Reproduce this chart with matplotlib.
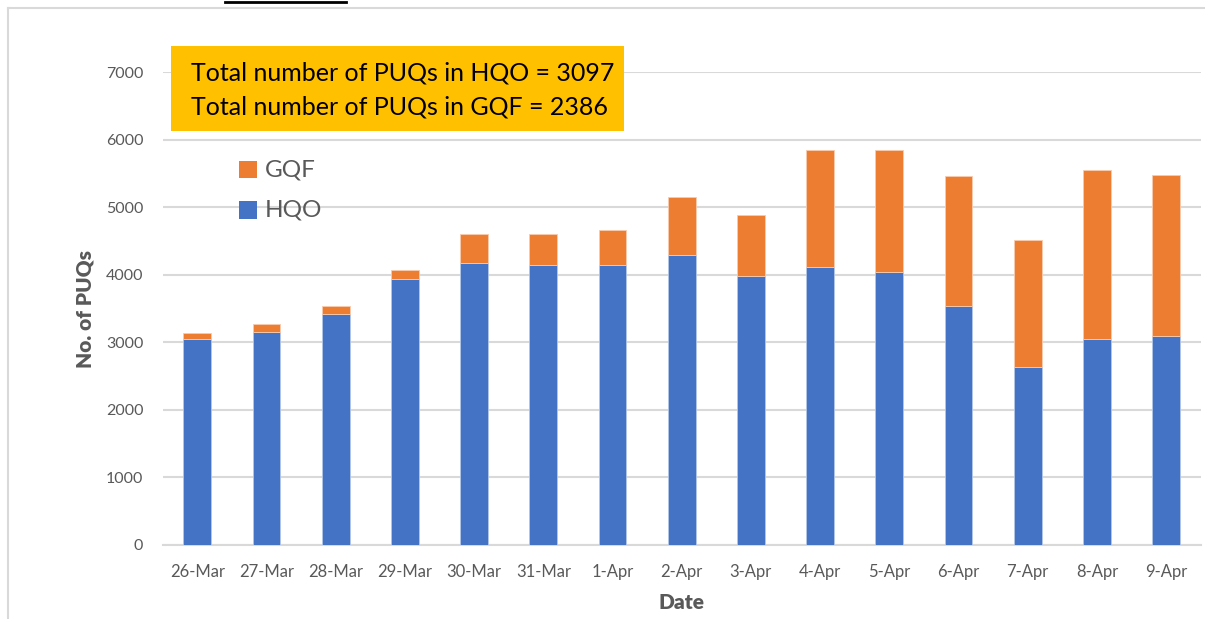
import matplotlib
matplotlib.use("Agg")
import matplotlib.pyplot as plt
from matplotlib.lines import Line2D
from matplotlib.patches import Rectangle

dates = ["26-Mar", "27-Mar", "28-Mar", "29-Mar", "30-Mar", "31-Mar", "1-Apr", "2-Apr",
         "3-Apr", "4-Apr", "5-Apr", "6-Apr", "7-Apr", "8-Apr", "9-Apr"]
hqo = [3044, 3147, 3426, 3937, 4178, 4143, 4143, 4288, 3985, 4119, 4040, 3543, 2634, 3044, 3097]
gqf = [99, 123, 114, 132, 429, 454, 513, 869, 905, 1722, 1801, 1917, 1876, 2502, 2386]
yticks = [0, 1000, 2000, 3000, 4000, 5000, 6000, 7000]
box_lines = ["Total number of PUQs in HQO = 3097", "Total number of PUQs in GQF = 2386"]

BLUE = "#4472C4"
ORANGE = "#ED7D31"
GREY_TXT = "#595959"
GRID = "#D9D9D9"
FONT = "Lato"

W, H = 1205, 619
fig = plt.figure(figsize=(W / 100, H / 100), dpi=100)
ax = fig.add_axes([162.7 / W, 1 - 545 / H, (1200.7 - 162.7) / W, (545 - 72) / H])

x = list(range(len(dates)))
ax.bar(x, hqo, width=0.4, color=BLUE, edgecolor="#B4C7E7", linewidth=0.6, zorder=3, label="HQO")
ax.bar(x, gqf, width=0.4, bottom=hqo, color=ORANGE, edgecolor="#F8CBAD", linewidth=0.6, zorder=3, label="GQF")

ax.set_xlim(-0.5, len(dates) - 0.5)
ax.set_ylim(0, 7000)
ax.set_yticks(yticks)
ax.set_yticklabels([str(v) for v in yticks], fontfamily=FONT, fontsize=11.5, color=GREY_TXT)
ax.set_xticks(x)
ax.set_xticklabels(dates, fontfamily=FONT, fontsize=12, color=GREY_TXT)
ax.tick_params(axis="y", length=0, pad=14)
ax.tick_params(axis="x", length=0, pad=14)
ax.yaxis.grid(True, color=GRID, linewidth=1.5, zorder=0)
ax.set_axisbelow(True)
for s in ["top", "right", "left"]:
    ax.spines[s].set_visible(False)
ax.spines["bottom"].set_color(GRID)
ax.spines["bottom"].set_linewidth(1.5)

ax.set_ylabel("No. of PUQs", fontfamily=FONT, fontsize=15, fontweight="heavy", color=GREY_TXT, labelpad=8)
ax.set_xlabel("Date", fontfamily=FONT, fontsize=15, fontweight="heavy", color=GREY_TXT, labelpad=9)

# legend (manual, GQF above HQO)
for i, (name, col) in enumerate([("GQF", ORANGE), ("HQO", BLUE)]):
    ytop = 160.7 + i * 40.5
    fig.patches.append(Rectangle((239 / W, 1 - (ytop + 17.5) / H), 17.5 / W, 17.5 / H,
                                 transform=fig.transFigure, facecolor=col, edgecolor="none"))
    fig.text(265 / W, 1 - (ytop + 9) / H, name, fontfamily=FONT, fontsize=17.5, color=GREY_TXT,
             va="center", ha="left")

# yellow text box
fig.patches.append(Rectangle((171 / W, 1 - 130.7 / H), (624 - 171) / W, (130.7 - 46) / H,
                             transform=fig.transFigure, facecolor="#FFC000", edgecolor="none", zorder=5))
for i, line in enumerate(box_lines):
    fig.text(191 / W, 1 - (73 + i * 34) / H, line, fontfamily=FONT, fontsize=18, color="black",
             va="center", ha="left", zorder=6)

# frame and cut-off caption underline
fig.add_artist(Line2D([7.7 / W, 1], [1 - 8.3 / H, 1 - 8.3 / H], transform=fig.transFigure, color=GRID, linewidth=1.5))
fig.add_artist(Line2D([7.7 / W, 7.7 / W], [0, 1 - 8.3 / H], transform=fig.transFigure, color=GRID, linewidth=1.5))
fig.add_artist(Line2D([225 / W, 346 / W], [1 - 1.5 / H, 1 - 1.5 / H], transform=fig.transFigure, color="black", linewidth=2))

fig.savefig("out.png", dpi=100)
